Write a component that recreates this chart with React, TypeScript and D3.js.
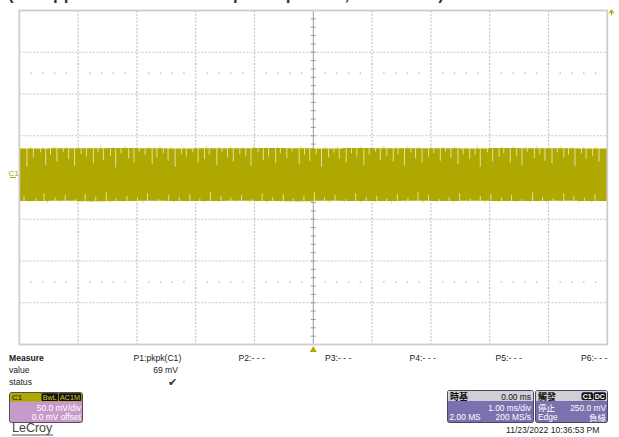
import React from "react";
import * as d3 from "d3";

const W = 619;
const H = 437;

// Scope settings
const timeDomain = [-5, 5]; // ms, 1.00 ms/div, 10 divisions
const voltDomain = [-200, 200]; // mV, 50 mV/div, 8 divisions

// Trace envelope (mV)
const envT = [-5, -4.5, -4, -3.5, -3, -2.5, -2, -1.5, -1, -0.5, 0, 0.5, 1, 1.5, 2, 2.5, 3, 3.5, 4, 4.5, 5];
const envHigh = [34.8, 35.1, 34.9, 35.2, 35.0, 34.7, 35.1, 34.9, 35.3, 35.0, 34.8, 35.2, 34.9, 35.1, 35.0, 34.8, 35.2, 34.9, 35.1, 34.8, 35.0];
const envLow = [-28.1, -27.8, -28.3, -28.0, -27.9, -28.2, -28.0, -27.7, -28.1, -28.3, -27.9, -28.0, -28.2, -27.8, -28.1, -27.9, -28.2, -28.0, -27.8, -28.1, -28.0];

// Light streaks inside band from the top (time ms, lowest mV)
const streakTopT = [-4.87, -4.76, -4.64, -4.55, -4.47, -4.36, -4.25, -4.16, -4.06, -3.95, -3.86, -3.74, -3.66, -3.57, -3.45, -3.36, -3.27, -3.14, -3.05, -2.96, -2.86, -2.74, -2.66, -2.55, -2.47, -2.35, -2.24, -2.16, -2.05, -1.96, -1.85, -1.77, -1.64, -1.55, -1.46, -1.36, -1.25, -1.15, -1.06, -0.94, -0.85, -0.76, -0.64, -0.56, -0.45, -0.36, -0.24, -0.15, -0.06, 0.05, 0.14, 0.26, 0.35, 0.44, 0.56, 0.65, 0.74, 0.86, 0.95, 1.06, 1.14, 1.25, 1.36, 1.44, 1.55, 1.66, 1.74, 1.85, 1.96, 2.05, 2.16, 2.25, 2.34, 2.46, 2.55, 2.66, 2.75, 2.84, 2.96, 3.05, 3.16, 3.24, 3.35, 3.46, 3.55, 3.64, 3.76, 3.85, 3.94, 4.06, 4.15, 4.26, 4.34, 4.45, 4.56, 4.64, 4.75, 4.86];
const streakTopV = [13, 24, 30, 15, 27, 19, 31, 22, 14, 28, 25, 17, 30, 21, 26, 12, 29, 23, 18, 31, 27, 16, 24, 29, 20, 13, 28, 25, 30, 18, 22, 27, 15, 31, 24, 19, 28, 26, 14, 30, 21, 25, 17, 29, 23, 31, 16, 27, 20, 28, 13, 24, 30, 22, 18, 29, 25, 15, 27, 31, 21, 26, 19, 28, 14, 30, 23, 17, 25, 29, 20, 31, 24, 16, 28, 22, 27, 13, 30, 19, 25, 29, 18, 26, 15, 31, 23, 28, 20, 17, 30, 24, 27, 14, 29, 22, 26, 19];

// Pale spikes above band
const spikeUpT = [-4.81, -4.6, -4.41, -4.2, -3.99, -3.81, -3.62, -3.4, -3.2, -3.01, -2.8, -2.61, -2.42, -2.2, -2.01, -1.82, -1.6, -1.41, -1.2, -1.02, -0.8, -0.61, -0.4, -0.21, -0.01, 0.2, 0.41, 0.6, 0.8, 1.01, 1.2, 1.41, 1.6, 1.79, 2.0, 2.21, 2.4, 2.6, 2.79, 3.0, 3.21, 3.4, 3.61, 3.8, 4.0, 4.2, 4.41, 4.6, 4.8];
const spikeUpV = [37.5, 36.2, 38.1, 36.8, 37.2, 36.0, 38.4, 36.5, 37.8, 36.3, 37.0, 38.2, 36.6, 37.4, 36.1, 38.0, 36.9, 37.6, 36.4, 38.3, 36.7, 37.1, 36.2, 37.9, 36.5, 38.1, 37.3, 36.0, 37.7, 36.8, 38.4, 36.3, 37.2, 36.6, 38.0, 36.9, 37.5, 36.1, 38.2, 36.4, 37.0, 37.8, 36.7, 38.3, 36.2, 37.4, 36.8, 37.9, 36.5];

// Light streaks inside band from the bottom
const streakBotT = [-4.92, -4.71, -4.58, -4.39, -4.22, -4.05, -3.88, -3.7, -3.52, -3.35, -3.17, -2.99, -2.82, -2.63, -2.46, -2.28, -2.1, -1.93, -1.75, -1.57, -1.4, -1.22, -1.04, -0.87, -0.69, -0.51, -0.34, -0.16, 0.02, 0.19, 0.37, 0.55, 0.72, 0.9, 1.08, 1.25, 1.43, 1.61, 1.78, 1.96, 2.14, 2.31, 2.49, 2.67, 2.84, 3.02, 3.2, 3.37, 3.55, 3.73, 3.9, 4.08, 4.26, 4.43, 4.61, 4.79];
const streakBotV = [-22, -25, -19, -24, -21, -26, -20, -23, -18, -25, -22, -24, -19, -26, -21, -23, -20, -25, -18, -22, -24, -21, -26, -19, -23, -20, -25, -22, -18, -24, -21, -26, -19, -23, -22, -25, -20, -24, -18, -21, -26, -23, -19, -25, -22, -20, -24, -21, -26, -18, -23, -25, -19, -22, -24, -20];

// Pale spikes below band
const spikeDownT = [-4.83, -4.52, -4.3, -4.01, -3.77, -3.45, -3.22, -2.9, -2.68, -2.37, -2.14, -1.86, -1.6, -1.31, -1.08, -0.79, -0.55, -0.27, 0.0, 0.28, 0.53, 0.81, 1.05, 1.33, 1.58, 1.87, 2.1, 2.39, 2.63, 2.92, 3.16, 3.44, 3.69, 3.97, 4.22, 4.5, 4.73];
const spikeDownV = [-29.8, -30.6, -29.4, -31.0, -29.9, -30.3, -29.5, -30.8, -29.7, -30.1, -29.3, -30.9, -29.6, -30.4, -29.8, -31.1, -29.5, -30.2, -29.9, -30.7, -29.4, -30.5, -29.7, -31.0, -29.6, -30.3, -29.8, -30.6, -29.5, -30.9, -29.7, -30.1, -29.4, -30.8, -29.9, -30.4, -29.6];

// Texts
const titleText = "(Vo ripple measured at output capacitor, 50 mV/div)";
const measureSlots = ["P1:pkpk(C1)", "P2:- - -", "P3:- - -", "P4:- - -", "P5:- - -", "P6:- - -"];
const measureValues = ["69 mV", "", "", "", "", ""];
const channelInfo = ["50.0 mV/div", "0.0 mV offset"];
const timebaseInfo = ["0.00 ms", "1.00 ms/div", "2.00 MS", "200 MS/s"];
const triggerInfo = ["停止", "250.0 mV", "Edge", "負緣"];
const dateText = "11/23/2022 10:36:53 PM";

const TRACE = "#AFA800";
const FONT = "Arial, 'Liberation Sans', sans-serif";
const CJK = "'Noto Sans CJK TC', 'Noto Sans CJK SC', sans-serif";

export default function App() {
  const left = 19.3, right = 607.3, top = 10.5, bottom = 344.5;
  const x = d3.scaleLinear().domain(timeDomain).range([left, right]);
  const y = d3.scaleLinear().domain(voltDomain).range([bottom, top]);

  const xTicks = d3.range(timeDomain[0], timeDomain[1] + 0.001, 1);
  const yTicks = d3.range(voltDomain[0], voltDomain[1] + 0.001, 50);
  const xMinor = d3.range(timeDomain[0], timeDomain[1] + 0.001, 0.2);
  const yMinor = d3.range(voltDomain[0], voltDomain[1] + 0.001, 10);

  const env = envT.map((t, i) => ({ t, hi: envHigh[i], lo: envLow[i] }));
  const area = d3
    .area<any>()
    .x((d) => x(d.t))
    .y0((d) => y(d.lo))
    .y1((d) => y(d.hi))
    .curve(d3.curveStepAfter);

  const dotRows = [125, -125]; // mV positions of dotted rows
  const cx = x(0), cy = y(0);

  return (
    <svg
      width={W}
      height={H}
      style={{ position: "absolute", left: 0, top: 0, background: "#fff" }}
      fontFamily={FONT}
    >
      <defs>
        <clipPath id="plotclip">
          <rect x={left} y={top} width={right - left} height={bottom - top} />
        </clipPath>
      </defs>
      {/* cropped title */}
      <text x={8} y={0} fontSize={17} fontWeight="bold" fill="#333" textLength={436} lengthAdjust="spacing">
        {titleText}
      </text>

      {/* grid */}
      {xTicks.slice(1, -1).map((t) =>
        t === 0 ? null : (
          <line key={"gx" + t} x1={x(t)} x2={x(t)} y1={top} y2={bottom} stroke="#c6c6c6" strokeWidth={1.2} strokeDasharray="2,1.5" />
        )
      )}
      {yTicks.slice(1, -1).map((v) =>
        v === 0 ? null : (
          <line key={"gy" + v} x1={left} x2={right} y1={y(v)} y2={y(v)} stroke="#c6c6c6" strokeWidth={1.2} strokeDasharray="2,1.5" />
        )
      )}
      {/* dotted rows */}
      {dotRows.map((v) =>
        xMinor
          .filter((t) => Math.abs(t - Math.round(t)) > 0.05)
          .map((t) => <rect key={"d" + v + "_" + t} x={x(t) - 0.7} y={y(v) - 0.7} width={1.4} height={1.4} fill="#bdbdbd" />)
      )}
      {/* center axes */}
      <line x1={cx} x2={cx} y1={top} y2={bottom} stroke="#9c9c9c" strokeWidth={1} />
      <line x1={left} x2={right} y1={cy} y2={cy} stroke="#9c9c9c" strokeWidth={1} />
      {yMinor.map((v) => (
        <line key={"ty" + v} x1={cx - 2.5} x2={cx + 2.5} y1={y(v)} y2={y(v)} stroke="#9c9c9c" strokeWidth={1} />
      ))}
      {xMinor.map((t) => (
        <line key={"tx" + t} x1={x(t)} x2={x(t)} y1={cy - 2.5} y2={cy + 2.5} stroke="#9c9c9c" strokeWidth={1} />
      ))}

      {/* trace */}
      <g clipPath="url(#plotclip)">
        {spikeUpT.map((t, i) => (
          <line key={"su" + i} x1={x(t)} x2={x(t)} y1={y(spikeUpV[i])} y2={y(34)} stroke="#E2DE8A" strokeWidth={1} />
        ))}
        {spikeDownT.map((t, i) => (
          <line key={"sd" + i} x1={x(t)} x2={x(t)} y1={y(spikeDownV[i])} y2={y(-27)} stroke="#E2DE8A" strokeWidth={1} />
        ))}
        <path d={area(env) || ""} fill={TRACE} />
        {streakTopT.map((t, i) =>
          streakTopV[i] === undefined ? null : (
            <line key={"st" + i} x1={x(t)} x2={x(t)} y1={y(35)} y2={y(streakTopV[i])} stroke="#E4E0A2" strokeWidth={1} />
          )
        )}
        {streakBotT.map((t, i) =>
          streakBotV[i] === undefined ? null : (
            <line key={"sb" + i} x1={x(t)} x2={x(t)} y1={y(-28)} y2={y(streakBotV[i])} stroke="#E4E0A2" strokeWidth={1} />
          )
        )}
      </g>

      {/* border */}
      <rect x={left} y={top} width={right - left} height={bottom - top} fill="none" stroke="#cdcdcd" strokeWidth={1.8} />

      {/* channel marker */}
      <text x={8.5} y={176} fontSize={8} fill={TRACE}>C1</text>
      <line x1={10} x2={16} y1={cy} y2={cy} stroke={TRACE} strokeWidth={1} />
      {/* trigger level arrow top right */}
      <path d={`M${right + 2},${top + 2.5} l2.2,-2.5 l2.2,2.5 M${right + 4.2},${top} v5`} stroke={TRACE} strokeWidth={1.2} fill="none" />
      {/* trigger position marker */}
      <path d={`M${cx},${bottom + 1.5} l3.5,6 h-7 z`} fill={TRACE} />

      {/* measure panel */}
      <g fontSize={8.6} fill="#222">
        <text x={9} y={361} fontWeight="bold">Measure</text>
        <text x={9} y={372.5}>value</text>
        <text x={9} y={385}>status</text>
        {measureSlots.map((s, i) => {
          const px = [133.5, 238.5, 325, 409.5, 495.5, 581][i];
          return (
            <text key={s} x={px} y={361}>{s}</text>
          );
        })}
        {measureValues.map((v, i) =>
          v ? (
            <text key={"mv" + i} x={178} y={372.5} textAnchor="end">{v}</text>
          ) : null
        )}
        <text x={177} y={386} textAnchor="end" fontSize={11} fill="#333">✔</text>
      </g>

      {/* C1 channel box */}
      <g>
        <rect x={9.5} y={392.5} width={73} height={30} rx={2} fill="#C899CB" stroke="#5a4a5c" strokeWidth={1} />
        <rect x={10} y={393} width={72} height={8.5} fill={TRACE} />
        <text x={12} y={400} fontSize={8} fill="#111">C1</text>
        <rect x={41.5} y={393.3} width={16.5} height={7.8} rx={1} fill="#111" />
        <text x={49.75} y={400} fontSize={7.2} fill="#D7CF30" textAnchor="middle">BwL</text>
        <rect x={58.8} y={393.3} width={22.4} height={7.8} rx={1} fill="#111" />
        <text x={70} y={400} fontSize={7.2} fill="#D7CF30" textAnchor="middle">AC1M</text>
        <text x={81} y={411} fontSize={8.4} fill="#fff" textAnchor="end">{channelInfo[0]}</text>
        <text x={81} y={420} fontSize={8.4} fill="#fff" textAnchor="end">{channelInfo[1]}</text>
      </g>
      <text x={12} y={432} fontSize={12.5} fill="#444" fontFamily={FONT}>LeCroy</text>
      <line x1={12} x2={53} y1={435} y2={435} stroke="#555" strokeWidth={1} />

      {/* timebase box */}
      <g>
        <rect x={447.5} y={390.5} width={86} height={32} rx={2} fill="#7A71AE" stroke="#4a4468" strokeWidth={1} />
        <rect x={448} y={391} width={85} height={10} fill="#cfcfd4" />
        <text x={450} y={399.5} fontSize={9} fontWeight="bold" fill="#111" fontFamily={CJK}>時基</text>
        <text x={531} y={399.5} fontSize={8.4} fill="#111" textAnchor="end">{timebaseInfo[0]}</text>
        <text x={531} y={411} fontSize={8.4} fill="#fff" textAnchor="end">{timebaseInfo[1]}</text>
        <text x={449.5} y={420} fontSize={8.4} fill="#fff">{timebaseInfo[2]}</text>
        <text x={531} y={420} fontSize={8.4} fill="#fff" textAnchor="end">{timebaseInfo[3]}</text>
      </g>

      {/* trigger box */}
      <g>
        <rect x={535.5} y={390.5} width={72} height={32} rx={2} fill="#7A71AE" stroke="#4a4468" strokeWidth={1} />
        <rect x={536} y={391} width={71} height={10} fill="#cfcfd4" />
        <text x={538} y={399.5} fontSize={9} fontWeight="bold" fill="#111" fontFamily={CJK}>觸發</text>
        <rect x={581.5} y={392.3} width={11.5} height={8} rx={2} fill="#111" />
        <text x={587.25} y={399} fontSize={7} fontWeight="bold" fill="#fff" textAnchor="middle">C1</text>
        <rect x={593.5} y={392.3} width={12.5} height={8} rx={2} fill="#111" />
        <text x={599.75} y={399} fontSize={7} fontWeight="bold" fill="#fff" textAnchor="middle">DC</text>
        <text x={538} y={411} fontSize={8.5} fill="#fff" fontFamily={CJK}>{triggerInfo[0]}</text>
        <text x={606} y={411} fontSize={8.4} fill="#fff" textAnchor="end">{triggerInfo[1]}</text>
        <text x={538} y={420} fontSize={8.4} fill="#fff">{triggerInfo[2]}</text>
        <text x={606} y={420.5} fontSize={8.5} fill="#fff" textAnchor="end" fontFamily={CJK}>{triggerInfo[3]}</text>
      </g>

      <text x={599.5} y={433} fontSize={8.6} fill="#222" textAnchor="end">{dateText}</text>
    </svg>
  );
}
